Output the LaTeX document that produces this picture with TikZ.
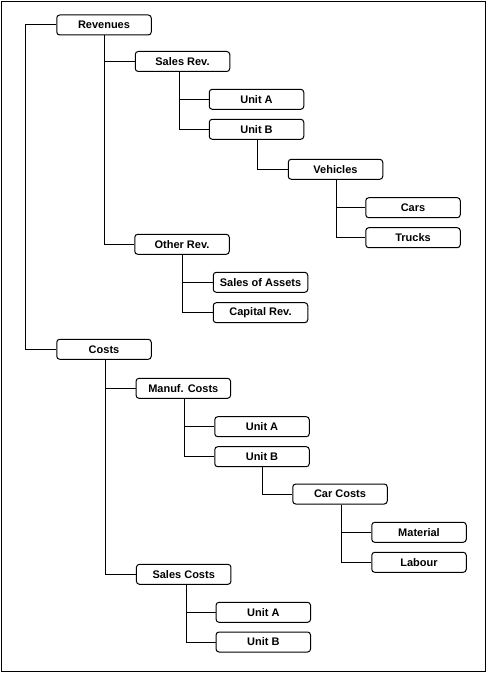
\documentclass[tikz,border=0pt]{standalone}
\usepackage{fontspec}
\setmainfont{Liberation Sans}
\begin{document}
\begin{tikzpicture}[x=1pt,y=-1pt,
  box/.style={draw, line width=1pt, rounded corners=3pt, minimum width=94.5pt, minimum height=20pt, inner sep=0pt, fill=white, font=\fontsize{11}{13}\selectfont\bfseries},
  conn/.style={line width=1pt}]
\useasboundingbox (0,0) rectangle (489,676);
\draw[line width=1.5pt] (1.5,1.5) rectangle (485.5,671.5);
% nodes
\node[box] (rev) at (104,25) {Revenues};
\node[box] (salesrev) at (182.5,61.5) {Sales Rev.};
\node[box] (ua1) at (256.5,99.3) {Unit A};
\node[box] (ub1) at (256.5,129.3) {Unit B};
\node[box] (veh) at (335.5,169.3) {Vehicles};
\node[box] (cars) at (413,207.7) {Cars};
\node[box] (trucks) at (413,237.7) {Trucks};
\node[box] (otherrev) at (182,244.3) {Other Rev.};
\node[box] (soa) at (260.5,282.3) {Sales of Assets};
\node[box] (caprev) at (260.5,312.7) {Capital Rev.};
\node[box] (costs) at (104,349.3) {Costs};
\node[box] (manuf) at (183.3,388.3) {Manuf. Costs};
\node[box] (ua2) at (262,426.7) {Unit A};
\node[box] (ub2) at (262,456.7) {Unit B};
\node[box] (carcosts) at (340,494) {Car Costs};
\node[box] (material) at (419,532.3) {Material};
\node[box] (labour) at (419,562.3) {Labour};
\node[box] (salescosts) at (183.7,574.3) {Sales Costs};
\node[box] (ua3) at (263.3,612.3) {Unit A};
\node[box] (ub3) at (263.3,642) {Unit B};
% trunk
\coordinate (tr) at (25.7,0);
\draw[conn] (rev.west) -| (tr |- costs.west) -- (costs.west);
% connectors
\draw[conn] (rev.south) |- (salesrev.west);
\draw[conn] (rev.south) |- (otherrev.west);
\draw[conn] ([xshift=-3.5pt]salesrev.south) |- (ua1.west);
\draw[conn] ([xshift=-3.5pt]salesrev.south) |- (ub1.west);
\draw[conn] ([xshift=1pt]ub1.south) |- (veh.west);
\draw[conn] ([xshift=0.5pt]veh.south) |- (cars.west);
\draw[conn] ([xshift=0.5pt]veh.south) |- (trucks.west);
\draw[conn] ([xshift=0.5pt]otherrev.south) |- (soa.west);
\draw[conn] ([xshift=0.5pt]otherrev.south) |- (caprev.west);
\draw[conn] ([xshift=1.7pt]costs.south) |- (manuf.west);
\draw[conn] ([xshift=1.7pt]costs.south) |- (salescosts.west);
\draw[conn] ([xshift=1pt]manuf.south) |- (ua2.west);
\draw[conn] ([xshift=1pt]manuf.south) |- (ub2.west);
\draw[conn] (ub2.south) |- (carcosts.west);
\draw[conn] ([xshift=1.7pt]carcosts.south) |- (material.west);
\draw[conn] ([xshift=1.7pt]carcosts.south) |- (labour.west);
\draw[conn] ([xshift=2.3pt]salescosts.south) |- (ua3.west);
\draw[conn] ([xshift=2.3pt]salescosts.south) |- (ub3.west);
\end{tikzpicture}
\end{document}
